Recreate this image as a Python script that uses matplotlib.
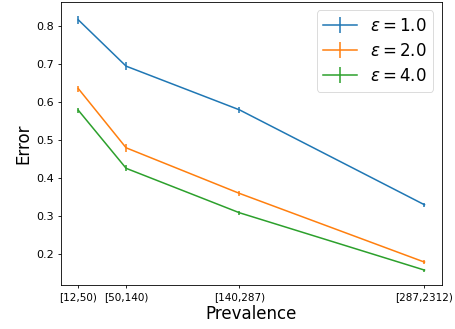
import matplotlib
matplotlib.use("Agg")
import matplotlib.pyplot as plt

categories = ["[12,50)", "[50,140)", "[140,287)", "[287,2312)"]
x_vals = [12, 50, 140, 287]
eps_labels = [r"$\varepsilon = 1.0$", r"$\varepsilon = 2.0$", r"$\varepsilon = 4.0$"]
err_eps1 = [0.816, 0.694, 0.579, 0.329]
err_eps2 = [0.635, 0.479, 0.359, 0.178]
err_eps4 = [0.578, 0.425, 0.308, 0.157]
sd_eps1 = [0.011, 0.011, 0.008, 0.006]
sd_eps2 = [0.008, 0.010, 0.006, 0.005]
sd_eps4 = [0.007, 0.008, 0.005, 0.004]

fig = plt.figure(figsize=(4.55, 3.29), dpi=100)
ax = fig.add_axes([0.134, 0.134, 0.837, 0.86])
for vals, sd, lab in zip([err_eps1, err_eps2, err_eps4], [sd_eps1, sd_eps2, sd_eps4], eps_labels):
    ax.errorbar(x_vals, vals, yerr=sd, label=lab, linewidth=1.1, elinewidth=1.1)
ax.set_xticks(x_vals)
ax.set_xticklabels(categories, fontsize=7.5)
ax.tick_params(axis="y", labelsize=8)
ax.tick_params(length=2.5, width=0.6, pad=2.5)
for s in ax.spines.values():
    s.set_linewidth(0.6)
ax.set_ylim(0.118, 0.863)
ax.set_xlabel("Prevalence", fontsize=12, labelpad=2.2)
ax.set_ylabel("Error", fontsize=12, labelpad=2.8)
leg = ax.legend(fontsize=12, loc="upper right", borderaxespad=0.5, labelspacing=0.42)
leg.get_frame().set_linewidth(0.6)
fig.savefig("out.png", dpi=100)
